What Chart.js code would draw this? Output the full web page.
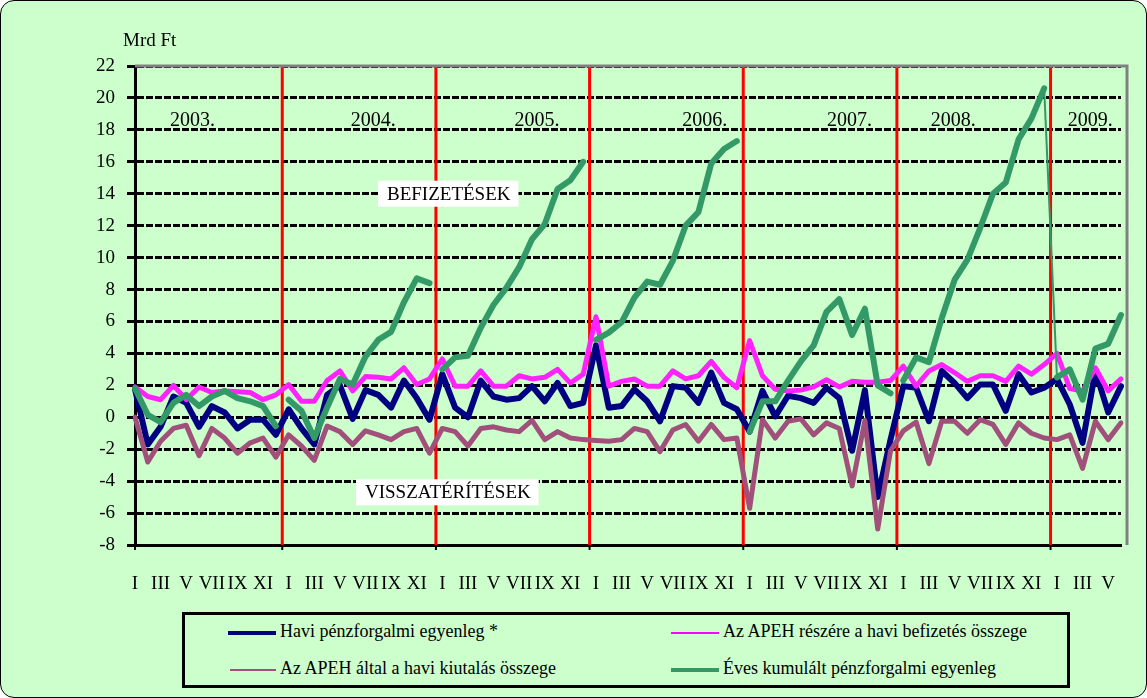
<!DOCTYPE html>
<html lang="hu">
  <head>
    <meta charset="UTF-8" />
    <title>APEH pénzforgalmi egyenleg</title>
    <script src="https://cdn.jsdelivr.net/npm/chart.js"></script>
    <style>
      body {
        margin: 0;
        font-family: "Liberation Serif", "Times New Roman", serif;
      }
      .page {
        position: relative;
        width: 1145px;
        height: 696px;
        border: 1px solid #000;
        border-radius: 14px;
        background: #ccffcc;
        overflow: hidden;
      }
      #chart {
        position: absolute;
        left: -1px;
        top: -1px;
      }
      .legend {
        position: absolute;
        left: 181px;
        top: 611px;
        width: 882px;
        height: 70px;
        border: 3px solid #000;
      }
      .item {
        position: absolute;
        font-size: 18px;
        line-height: 20px;
        white-space: nowrap;
      }
      .item span {
        display: inline-block;
        vertical-align: middle;
        margin-right: 4px;
      }
    </style>
  </head>
  <body>
    <div class="page">
      <canvas id="chart" width="1147" height="600"></canvas>
      <div class="legend">
        <div class="item" style="left: 43px; top: 6px"><span style="width: 48px; height: 4px; background: #000080"></span>Havi pénzforgalmi egyenleg *</div>
        <div class="item" style="left: 486px; top: 6px"><span style="width: 48px; height: 2px; background: #ff00ff"></span>Az APEH részére a havi befizetés összege</div>
        <div class="item" style="left: 45px; top: 43px"><span style="width: 46px; height: 2px; background: #a0507a"></span>Az APEH által a havi kiutalás összege</div>
        <div class="item" style="left: 486px; top: 43px"><span style="width: 48px; height: 4px; background: #339966"></span>Éves kumulált pénzforgalmi egyenleg</div>
      </div>
    </div>

    <script>
      const years = [2003, 2004, 2005, 2006, 2007, 2008, 2009];
      const months = ["I", "II", "III", "IV", "V", "VI", "VII", "VIII", "IX", "X", "XI", "XII"];
      const monthsShown = 78; // 2003. I - 2009. VI

      // Havi pénzforgalmi egyenleg (Mrd Ft)
      const egyenleg = [
        1.75, -1.7, -0.6, 1.3, 0.9, -0.6, 0.7, 0.3, -0.7, -0.15, -0.15, -1.1,
        0.5, -0.7, -1.7, 1.4, 2.0, -0.1, 1.7, 1.4, 0.6, 2.3, 1.2, -0.15,
        2.7, 0.6, 0.0, 2.3, 1.3, 1.1, 1.2, 1.95, 1.0, 2.15, 0.7, 0.9,
        4.5, 0.6, 0.7, 1.75, 1.0, -0.25, 1.95, 1.85, 0.9, 2.8, 0.9, 0.5,
        -0.9, 1.65, 0.05, 1.35, 1.2, 0.9, 1.85, 1.2, -2.1, 1.7, -5.0, -1.4,
        1.95, 1.85, -0.25, 2.9, 2.15, 1.2, 2.05, 2.05, 0.4, 2.7, 1.55, 1.85,
        2.4, 0.8, -1.6, 2.9, 0.3, 1.95,
      ];
      // Az APEH részére a havi befizetés összege
      const befizetes = [
        1.9, 1.3, 1.1, 2.0, 1.1, 1.9, 1.55, 1.65, 1.6, 1.55, 1.1, 1.4,
        2.05, 1.0, 1.0, 2.3, 2.9, 1.65, 2.55, 2.5, 2.4, 3.1, 2.05, 2.4,
        3.65, 1.95, 1.95, 2.9, 1.95, 1.95, 2.6, 2.4, 2.5, 3.0, 2.15, 2.7,
        6.3, 1.95, 2.25, 2.4, 1.95, 1.95, 2.9, 2.4, 2.6, 3.5, 2.5, 1.85,
        4.8, 2.6, 1.75, 1.65, 1.7, 1.9, 2.35, 1.9, 2.25, 2.2, 2.2, 2.3,
        3.2, 1.95, 2.9, 3.3, 2.8, 2.25, 2.6, 2.6, 2.25, 3.2, 2.7, 3.3,
        4.0, 1.8, 1.65, 3.1, 1.65, 2.4,
      ];
      // Az APEH által a havi kiutalás összege
      const kiutalas = [
        0.0, -2.8, -1.5, -0.7, -0.5, -2.4, -0.7, -1.3, -2.25, -1.6, -1.3, -2.5,
        -1.1, -1.8, -2.7, -0.55, -0.9, -1.7, -0.85, -1.1, -1.4, -0.9, -0.7, -2.25,
        -0.7, -0.9, -1.8, -0.7, -0.6, -0.8, -0.9, -0.2, -1.4, -0.9, -1.3, -1.4,
        -1.45, -1.5, -1.4, -0.7, -0.9, -2.15, -0.8, -0.45, -1.5, -0.45, -1.4, -1.3,
        -5.7, -0.15, -1.3, -0.25, -0.1, -1.1, -0.35, -0.7, -4.3, -0.2, -7.0, -2.1,
        -0.85, -0.3, -2.9, -0.25, -0.25, -1.0, -0.15, -0.45, -1.7, -0.35, -1.0, -1.3,
        -1.4, -1.1, -3.2, -0.25, -1.4, -0.35,
      ];
      // Éves kumulált pénzforgalmi egyenleg
      const kumulalt = [
        1.8, 0.15, -0.3, 0.9, 1.4, 0.7, 1.3, 1.65, 1.2, 1.0, 0.7, -0.55,
        1.1, 0.4, -1.3, 0.6, 2.4, 2.05, 3.8, 4.85, 5.35, 7.2, 8.7, 8.4,
        3.0, 3.75, 3.85, 5.6, 7.05, 8.1, 9.4, 11.15, 12.1, 14.3, 14.85, 16.0,
        4.85, 5.3, 5.95, 7.5, 8.5, 8.3, 9.8, 12.0, 12.85, 15.9, 16.8, 17.3,
        -0.9, 1.0, 1.0, 2.3, 3.5, 4.5, 6.6, 7.4, 5.15, 6.8, 2.0, 1.5,
        2.3, 3.75, 3.45, 6.2, 8.6, 9.85, 11.85, 14.0, 14.7, 17.4, 18.7, 20.6,
        2.5, 3.0, 1.1, 4.3, 4.6, 6.4,
      ];

      const labels = [];
      years.forEach((y) => months.forEach((m) => labels.push(y + ". " + m)));
      labels.length = monthsShown;

      const FONT = "'Liberation Serif', 'Times New Roman', serif";

      // feliratok: évszámok és a két magyarázó szöveg (x: hónap sorszám, y: Mrd Ft)
      const yearNotes = [
        ["2003.", 4.5], ["2004.", 18.6], ["2005.", 31.4], ["2006.", 44.5],
        ["2007.", 55.8], ["2008.", 63.9], ["2009.", 74.6],
      ];

      const decorPlugin = {
        id: "decor",
        beforeDatasetsDraw(chart) {
          const { ctx, chartArea, scales } = chart;
          const x = scales.x;
          ctx.save();
          // piros évhatárok
          ctx.strokeStyle = "#ff0000";
          ctx.lineWidth = 3;
          for (let k = 1; k < years.length; k++) {
            const px = x.getPixelForValue(12 * k - 0.5);
            ctx.beginPath();
            ctx.moveTo(px, chartArea.top);
            ctx.lineTo(px, chartArea.bottom);
            ctx.stroke();
          }
          // szürke keret fent és jobbra
          ctx.strokeStyle = "#808080";
          ctx.lineWidth = 3;
          ctx.beginPath();
          ctx.moveTo(chartArea.left, chartArea.top);
          ctx.lineTo(chartArea.right + 6, chartArea.top);
          ctx.lineTo(chartArea.right + 6, chartArea.bottom);
          ctx.stroke();
          // kis osztások az x tengelyen
          ctx.strokeStyle = "#000";
          ctx.lineWidth = 2;
          for (let k = 0; k < years.length; k++) {
            const px = k === 0 ? chartArea.left : x.getPixelForValue(12 * k - 0.5);
            ctx.beginPath();
            ctx.moveTo(px, chartArea.bottom);
            ctx.lineTo(px, chartArea.bottom + 5);
            ctx.stroke();
          }
          ctx.restore();
        },
        afterDatasetsDraw(chart) {
          const { ctx, scales } = chart;
          const x = scales.x, y = scales.y;
          ctx.save();
          ctx.fillStyle = "#000";
          ctx.font = "20px " + FONT;
          ctx.textAlign = "center";
          ctx.textBaseline = "middle";
          yearNotes.forEach(([t, m]) => ctx.fillText(t, x.getPixelForValue(m), y.getPixelForValue(18.6)));

          const boxed = (t, left, val) => {
            ctx.font = "19px " + FONT;
            const w = ctx.measureText(t).width;
            const cy = y.getPixelForValue(val);
            ctx.fillStyle = "#fff";
            ctx.fillRect(left - 9, cy - 13, w + 17, 26);
            ctx.fillStyle = "#000";
            ctx.textAlign = "left";
            ctx.fillText(t, left, cy + 1);
          };
          boxed("BEFIZETÉSEK", 387, 14);
          boxed("VISSZATÉRÍTÉSEK", 365, -4.7);

          ctx.font = "19px " + FONT;
          ctx.textAlign = "left";
          ctx.fillText("Mrd Ft", 123, 41);
          ctx.restore();
        },
      };

      new Chart(document.getElementById("chart"), {
        type: "line",
        data: {
          labels: labels,
          datasets: [
            {
              label: "Havi pénzforgalmi egyenleg *",
              data: egyenleg,
              borderColor: "#000080",
              borderWidth: 6,
              order: 3,
            },
            {
              label: "Az APEH részére a havi befizetés összege",
              data: befizetes,
              borderColor: "#ff22ff",
              borderWidth: 5,
              order: 2,
            },
            {
              label: "Az APEH által a havi kiutalás összege",
              data: kiutalas,
              borderColor: "#a0507a",
              borderWidth: 5,
              order: 1,
            },
            {
              label: "Éves kumulált pénzforgalmi egyenleg",
              data: kumulalt,
              borderColor: "#339966",
              borderWidth: 6,
              order: 0,
              segment: {
                borderColor: (c) =>
                  c.p1DataIndex % 12 === 0 && c.p1DataIndex !== 72 ? "rgba(0,0,0,0)" : undefined,
                borderWidth: (c) => (c.p1DataIndex === 72 ? 2 : undefined),
              },
            },
          ],
        },
        options: {
          responsive: false,
          animation: false,
          events: [],
          layout: { padding: { top: 66, right: 26, left: 0, bottom: 0 } },
          elements: {
            point: { radius: 0 },
            line: { tension: 0, borderJoinStyle: "round", borderCapStyle: "round" },
          },
          plugins: { legend: { display: false }, tooltip: { enabled: false } },
          scales: {
            x: {
              afterFit: (s) => { s.height = 55; },
              grid: { display: false },
              border: { color: "#000", width: 3 },
              ticks: {
                autoSkip: false,
                maxRotation: 0,
                padding: 20,
                color: "#000",
                font: { family: FONT, size: 19 },
                callback: (v, i) => (i % 2 === 0 ? months[i % 12] : ""),
              },
            },
            y: {
              min: -8,
              max: 22,
              afterFit: (s) => { s.width = 135; },
              grid: { color: "#000", lineWidth: 3, tickLength: 8, tickColor: "#000", tickWidth: 3 },
              border: { color: "#000", width: 3, dash: [7, 2] },
              ticks: {
                stepSize: 2,
                padding: 12,
                color: "#000",
                font: { family: FONT, size: 19 },
              },
            },
          },
        },
        plugins: [decorPlugin],
      });
    </script>
  </body>
</html>
